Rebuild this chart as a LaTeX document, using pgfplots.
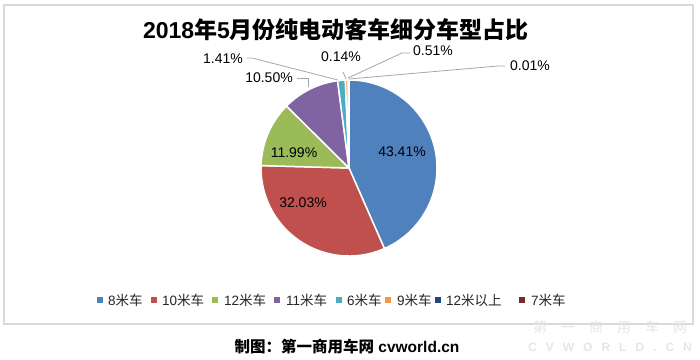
\documentclass[border=0pt]{standalone}
\usepackage{pgfplots}
\usepackage{pgfplotstable}
\pgfplotsset{compat=1.18}
\usepackage{fontspec}
\setmainfont{Liberation Sans}
\newfontfamily\cjk{Noto Sans CJK SC}
\definecolor{p1}{HTML}{4F81BD}
\definecolor{p2}{HTML}{C0504D}
\definecolor{p3}{HTML}{9BBB59}
\definecolor{p4}{HTML}{8064A2}
\definecolor{p5}{HTML}{4BACC6}
\definecolor{p6}{HTML}{F79646}
\definecolor{p7}{HTML}{1F497D}
\definecolor{p8}{HTML}{772C2A}
\definecolor{frame}{HTML}{D9D9D9}
\definecolor{leader}{HTML}{A6A6A6}

\pgfplotstableread[col sep=comma]{
id,value,color
0,43.41,p1
1,32.03,p2
2,11.99,p3
3,10.50,p4
4,1.41,p5
5,0.51,p6
6,0.14,p7
7,0.01,p8
}\piedata

\newcommand{\lab}{\fontsize{14}{16}\selectfont}
\newcommand{\legitem}[4]{%
  \node[fill=#2, minimum size=5.5pt, inner sep=0pt] at (axis cs:#1,59) {};
  \node[anchor=west, inner sep=0pt, text=black!85, font=\fontsize{13.5}{15}\selectfont] at (axis cs:#3,59) {#4};
}

\begin{document}
\begin{tikzpicture}
\begin{axis}[hide axis, scale only axis, width=700pt, height=359pt,
  xmin=0, xmax=700, ymin=0, ymax=359, clip=false]
\path (axis cs:0,0) rectangle (axis cs:700,359);
\draw[frame, line width=1.6pt] (axis cs:4,354) rectangle (axis cs:693,35);

% pie slices from the table
\def\startang{90}
\pgfplotsforeachungrouped \i in {0,...,7}{%
  \pgfplotstablegetelem{\i}{value}\of\piedata \let\v\pgfplotsretval
  \pgfplotstablegetelem{\i}{color}\of\piedata \let\c\pgfplotsretval
  \pgfmathsetmacro\endang{\startang - 3.6*\v}%
  \edef\temp{\noexpand\fill[\c, draw=white, line width=1.5pt, line join=round]
    (axis cs:349,191) -- ++(\startang:88pt) arc[start angle=\startang, end angle=\endang, radius=88pt] -- cycle;}%
  \temp
  \global\let\startang\endang
}

% title
\node[font=\fontsize{23}{26}\selectfont\bfseries] at (axis cs:336,329)
  {2018{\cjk 年}5{\cjk 月份纯电动客车细分车型占比}};

% inner labels
\node[font=\lab] at (axis cs:402,207) {43.41\%};
\node[font=\lab] at (axis cs:303,156) {32.03\%};
\node[font=\lab] at (axis cs:294,206) {11.99\%};

% leader lines
\draw[leader, line width=0.8pt] (axis cs:297,281) -- (axis cs:308,281) -- (axis cs:308,272);
\draw[leader, line width=0.8pt] (axis cs:247,301) -- (axis cs:252,301) -- (axis cs:338,279);
\draw[leader, line width=0.8pt] (axis cs:343,287) -- (axis cs:346,280);
\draw[leader, line width=0.8pt] (axis cs:410,306) -- (axis cs:402,306) -- (axis cs:348,281);
\draw[leader, line width=0.8pt] (axis cs:505,293) -- (axis cs:498,293) -- (axis cs:349,280);

% outer labels
\node[font=\lab] at (axis cs:269,281) {10.50\%};
\node[font=\lab] at (axis cs:223,300) {1.41\%};
\node[font=\lab] at (axis cs:341,302) {0.14\%};
\node[font=\lab] at (axis cs:433,308) {0.51\%};
\node[font=\lab] at (axis cs:530,293) {0.01\%};

% legend
\legitem{100}{p1}{108}{8{\cjk 米车}}
\legitem{154}{p2}{162}{10{\cjk 米车}}
\legitem{215}{p3}{224}{12{\cjk 米车}}
\legitem{277}{p4}{286}{11{\cjk 米车}}
\legitem{339}{p5}{347}{6{\cjk 米车}}
\legitem{388}{p6}{397}{9{\cjk 米车}}
\legitem{438}{p7}{446}{12{\cjk 米以上}}
\legitem{522}{p8}{531}{7{\cjk 米车}}

% footer
\node[font=\fontsize{15.5}{18}\selectfont\bfseries] at (axis cs:347,12)
  {{\cjk 制图：第一商用车网} cvworld.cn};

% watermark
\node[text=black!10, font=\fontsize{14}{16}\selectfont] at (axis cs:610,32)
  {\cjk 第\hspace{14pt}一\hspace{14pt}商\hspace{14pt}用\hspace{14pt}车\hspace{14pt}网};
\node[text=black!10, font=\fontsize{12}{14}\selectfont\bfseries] at (axis cs:610,12)
  {C\hspace{9pt}V\hspace{9pt}W\hspace{9pt}O\hspace{9pt}R\hspace{9pt}L\hspace{9pt}D\hspace{9pt}.\hspace{9pt}C\hspace{9pt}N};
\end{axis}
\end{tikzpicture}
\end{document}
